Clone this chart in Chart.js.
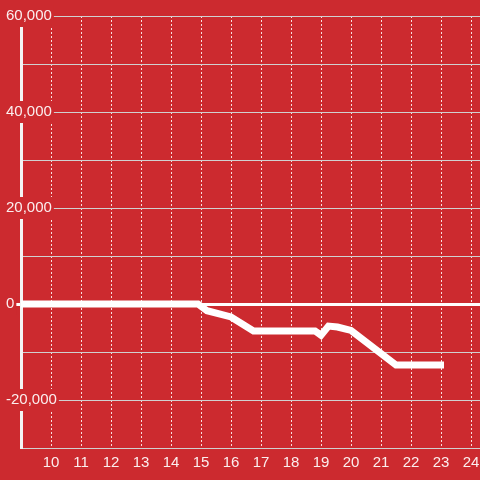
<!DOCTYPE html>
<html>
<head>
<meta charset="utf-8">
<script src="https://cdn.jsdelivr.net/npm/chart.js@4"></script>
<style>
  body { margin: 0; background: #cc2a2f; }
  canvas { display: block; }
</style>
</head>
<body>
<canvas id="grafico" width="480" height="480"></canvas>
<script>
// valores
const horas = [9, 14.9, 15.2, 16, 16.75, 18.8, 19, 19.25, 19.55, 20, 21.5, 23.1];
const saldo = [0, 0, -1400, -2700, -5600, -5600, -6500, -4600, -4800, -5500, -12700, -12700];
const ticksX = [10, 11, 12, 13, 14, 15, 16, 17, 18, 19, 20, 21, 22, 23, 24];

const fundo = "#cc2a2f";
const texto = "rgba(255,255,255,0.92)";

const pontos = horas.map((h, i) => ({ x: h, y: saldo[i] }));

Chart.defaults.font.family = "'Liberation Sans', Arial, sans-serif";
Chart.defaults.font.size = 15;

new Chart(document.getElementById("grafico"), {
  type: "line",
  data: {
    datasets: [
      {
        data: pontos,
        borderColor: "#ffffff",
        borderWidth: 7,
        pointRadius: 0,
        tension: 0,
        fill: false
      }
    ]
  },
  options: {
    responsive: false,
    animation: false,
    layout: { padding: { left: 6, top: 16, right: 0, bottom: 0 } },
    plugins: { legend: { display: false }, tooltip: { enabled: false } },
    scales: {
      x: {
        type: "linear",
        z: -1,
        min: 9,
        max: 24.3,
        afterBuildTicks: (s) => {
          s.ticks = ticksX.map((v) => ({ value: v }));
        },
        afterFit: (s) => {
          s.height = 32;
          s.paddingLeft = 0;
          s.paddingRight = 0;
        },
        ticks: { color: texto, padding: 6, callback: (v) => String(v) },
        grid: {
          color: "rgba(255,255,255,0.85)",
          drawTicks: false
        },
        border: { color: "#d0d0d0", width: 1, dash: [2, 2] }
      },
      y: {
        min: -30000,
        max: 60000,
        afterFit: (s) => {
          s.width = 15;
        },
        ticks: {
          stepSize: 10000,
          color: texto,
          mirror: true,
          padding: -15,
          showLabelBackdrop: true,
          backdropColor: fundo,
          backdropPadding: 2,
          callback: (v) => (v % 20000 === 0 ? v.toLocaleString("en-US") : "")
        },
        grid: {
          color: (c) => (c.tick && c.tick.value === 0 ? "#ffffff" : "#d0d0d0"),
          lineWidth: (c) => (c.tick && c.tick.value === 0 ? 3 : 1),
          tickColor: (c) => (c.tick && c.tick.value === 0 ? "#ffffff" : "rgba(0,0,0,0)"),
          tickLength: 5
        },
        border: { color: "#f4f4f4", width: 3 }
      }
    }
  }
});
</script>
</body>
</html>
